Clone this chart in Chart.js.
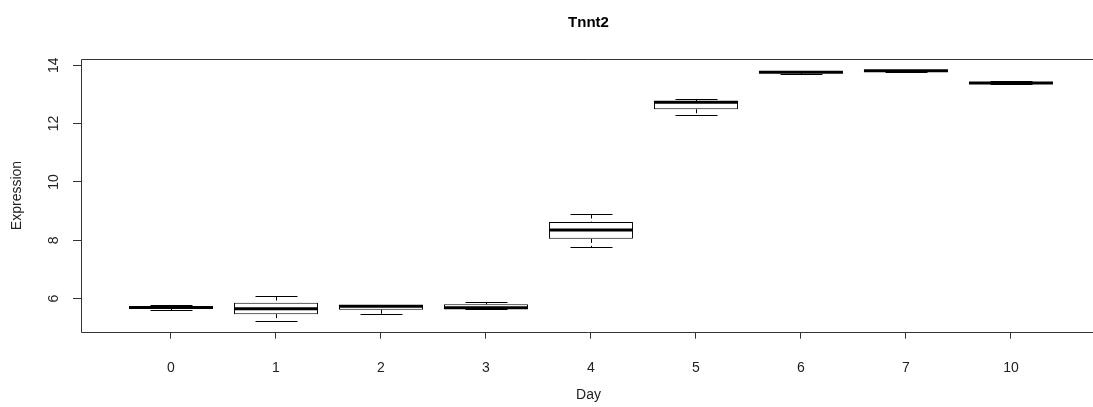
<!DOCTYPE html>
<html>
<head>
<meta charset="utf-8">
<title>Tnnt2</title>
<script src="https://cdn.jsdelivr.net/npm/chart.js@4.4.0/dist/chart.umd.min.js"></script>
<style>
  html, body { margin: 0; padding: 0; background: #fff; overflow: hidden; }
  #wrap { width: 1096px; height: 407px; }
</style>
</head>
<body>
<div id="wrap"><canvas id="boxChart" width="1096" height="407"></canvas></div>
<script>
// Tnnt2 expression per day: five-number summaries
const dayLabels   = ['0', '1', '2', '3', '4', '5', '6', '7', '10'];
const whiskerLow  = [5.62, 5.24, 5.49, 5.65, 7.76, 12.29, 13.70, 13.77, 13.37];
const quart1      = [5.66, 5.47, 5.62, 5.66, 8.05, 12.49, 13.74, 13.80, 13.38];
const medians     = [5.70, 5.66, 5.74, 5.69, 8.35, 12.73, 13.76, 13.81, 13.39];
const quart3      = [5.73, 5.86, 5.78, 5.81, 8.63, 12.77, 13.77, 13.82, 13.41];
const whiskerHigh = [5.77, 6.09, 5.80, 5.90, 8.89, 12.84, 13.77, 13.82, 13.46];
const yTicks = [6, 8, 10, 12, 14];

const FONT = '"Liberation Sans", Arial, sans-serif';
const TEXT = '#222';
const LINE = '#333';

const crisp = v => Math.round(v) + 0.5;

// medians, dashed whiskers, staples, plot frame, title and rotated y labels
const boxExtras = {
  id: 'boxExtras',
  afterDatasetsDraw(chart) {
    const { ctx, chartArea, scales: { y } } = chart;
    const meta = chart.getDatasetMeta(0);
    ctx.save();
    ctx.strokeStyle = '#000';
    meta.data.forEach((bar, i) => {
      const cx = crisp(bar.x);
      const half = bar.width / 2;
      const staple = half / 2;
      const yLo = crisp(y.getPixelForValue(whiskerLow[i]));
      const yHi = crisp(y.getPixelForValue(whiskerHigh[i]));
      const yQ1 = y.getPixelForValue(quart1[i]);
      const yQ3 = y.getPixelForValue(quart3[i]);
      const yMed = y.getPixelForValue(medians[i]);

      // whiskers
      ctx.lineWidth = 1;
      ctx.setLineDash([4, 3]);
      ctx.beginPath();
      ctx.moveTo(cx, yHi); ctx.lineTo(cx, yQ3);
      ctx.moveTo(cx, yQ1); ctx.lineTo(cx, yLo);
      ctx.stroke();
      ctx.setLineDash([]);

      // staples
      ctx.beginPath();
      ctx.moveTo(cx - staple, yHi); ctx.lineTo(cx + staple, yHi);
      ctx.moveTo(cx - staple, yLo); ctx.lineTo(cx + staple, yLo);
      ctx.stroke();

      // median
      ctx.lineWidth = 3;
      ctx.beginPath();
      ctx.moveTo(bar.x - half, yMed); ctx.lineTo(bar.x + half, yMed);
      ctx.stroke();
    });

    // frame: left, top and bottom sides, running on past the right edge
    const l = crisp(chartArea.left), t = crisp(chartArea.top), b = crisp(chartArea.bottom);
    ctx.lineWidth = 1;
    ctx.strokeStyle = LINE;
    ctx.beginPath();
    ctx.moveTo(chart.width, t); ctx.lineTo(l, t); ctx.lineTo(l, b); ctx.lineTo(chart.width, b);
    ctx.stroke();
    ctx.restore();
  },
  afterDraw(chart) {
    const { ctx, chartArea, scales: { y } } = chart;
    ctx.save();
    ctx.fillStyle = '#000';
    ctx.textAlign = 'center';
    ctx.textBaseline = 'middle';
    ctx.font = 'bold 15px ' + FONT;
    ctx.fillText('Tnnt2', (chartArea.left + chartArea.right) / 2, 23);

    // y tick labels are written along the axis
    ctx.fillStyle = TEXT;
    ctx.font = '14px ' + FONT;
    yTicks.forEach(v => {
      ctx.save();
      ctx.translate(54, y.getPixelForValue(v));
      ctx.rotate(-Math.PI / 2);
      ctx.fillText(String(v), 0, 0);
      ctx.restore();
    });
    ctx.restore();
  }
};

new Chart(document.getElementById('boxChart').getContext('2d'), {
  type: 'bar',
  data: {
    datasets: [{
      data: dayLabels.map((d, i) => ({ x: i + 1, y: [quart1[i], quart3[i]] })),
      backgroundColor: '#fff',
      borderColor: '#000',
      borderWidth: 1,
      borderSkipped: false,
      categoryPercentage: 0.8,
      barPercentage: 1
    }]
  },
  options: {
    responsive: false,
    animation: false,
    layout: { padding: { top: 59.3, left: 0, right: 0, bottom: 0 } },
    plugins: {
      legend: { display: false },
      tooltip: { enabled: false },
      title: { display: false }
    },
    scales: {
      x: {
        type: 'linear',
        offset: false,
        min: 0.143,
        max: 9.81,
        afterBuildTicks: s => { s.ticks = dayLabels.map((d, i) => ({ value: i + 1 })); },
        afterFit: s => { s.height = 75.3; },
        ticks: {
          callback: v => dayLabels[v - 1],
          color: TEXT,
          font: { family: FONT, size: 14 },
          padding: 21,
          maxRotation: 0,
          autoSkip: false
        },
        grid: { offset: false, drawOnChartArea: false, drawTicks: true, tickLength: 7, color: LINE },
        border: { display: false },
        title: {
          display: true,
          text: 'Day',
          color: TEXT,
          font: { family: FONT, size: 14 },
          padding: { top: 0, bottom: 3 }
        }
      },
      y: {
        min: 4.87,
        max: 14.2,
        afterBuildTicks: s => { s.ticks = yTicks.map(v => ({ value: v })); },
        afterFit: s => { s.width = 81; },
        ticks: { display: false },
        grid: { drawOnChartArea: false, drawTicks: true, tickLength: 8, color: LINE },
        border: { display: false },
        title: {
          display: true,
          text: 'Expression',
          color: TEXT,
          font: { family: FONT, size: 14 },
          padding: { top: 9, bottom: 0 }
        }
      }
    }
  },
  plugins: [boxExtras]
});
</script>
</body>
</html>
